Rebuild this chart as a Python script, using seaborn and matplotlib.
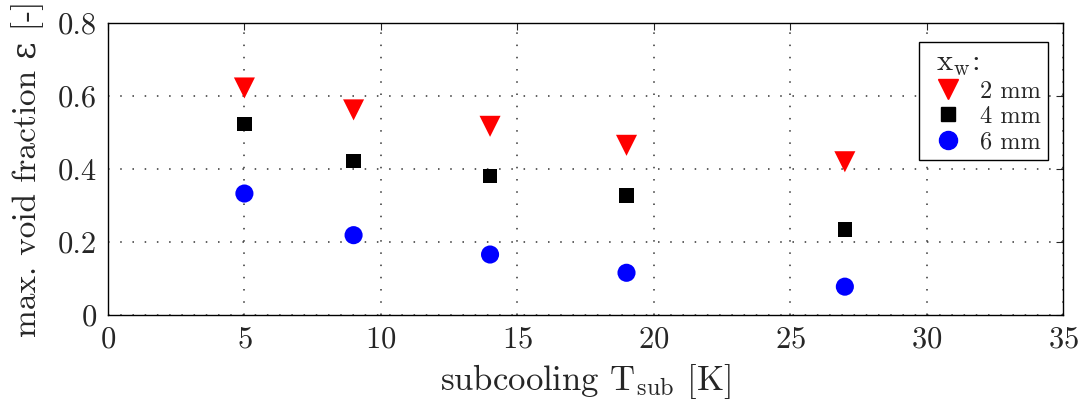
import pandas as pd
import matplotlib
matplotlib.use('Agg')
import matplotlib.pyplot as plt
import seaborn as sns

# data
subcooling = [5, 9, 14, 19, 27]
void_2mm = [0.622, 0.562, 0.517, 0.465, 0.42]
void_4mm = [0.523, 0.422, 0.381, 0.327, 0.234]
void_6mm = [0.333, 0.219, 0.166, 0.116, 0.078]
gap_labels = ['2 mm', '4 mm', '6 mm']

df = pd.DataFrame({
    'T_sub': subcooling * 3,
    'void': void_2mm + void_4mm + void_6mm,
    'gap': [g for g in gap_labels for _ in subcooling],
})

sns.set_style('white')
plt.rcParams['font.family'] = ['cmr10', 'DejaVu Serif']
plt.rcParams['mathtext.fontset'] = 'cm'
plt.rcParams['axes.formatter.use_mathtext'] = True
plt.rcParams['axes.unicode_minus'] = False

fig, ax = plt.subplots(figsize=(10.86, 4.03), dpi=100)
fig.subplots_adjust(left=0.0994, right=0.979, top=0.943, bottom=0.218)

palette = {'2 mm': '#ff0000', '4 mm': '#000000', '6 mm': '#0000ff'}
markers = {'2 mm': 'v', '4 mm': 's', '6 mm': 'o'}
sizes = {'2 mm': 230, '4 mm': 110, '6 mm': 170}

sns.scatterplot(data=df, x='T_sub', y='void', hue='gap', style='gap', size='gap',
                palette=palette, markers=markers, sizes=sizes, linewidth=0,
                ax=ax, legend=False)

ax.set_xlim(0, 35)
ax.set_ylim(0, 0.8)
ax.set_xticks(range(0, 36, 5))
ax.set_yticks([0, 0.2, 0.4, 0.6, 0.8])
ax.set_yticklabels(['0', '0.2', '0.4', '0.6', '0.8'])
ax.tick_params(direction='in', top=True, right=True, labelsize=22, length=5, width=0.8, pad=8)
ax.grid(True, linestyle=(0, (1, 7)), color='#333333', linewidth=1.1)
for s in ax.spines.values():
    s.set_color('black')
    s.set_linewidth(1.0)

ax.set_xlabel(r'subcooling T$_\mathrm{sub}$ [K]', fontsize=25, labelpad=6)
ax.set_ylabel('max. void fraction ε [-]', fontsize=24, labelpad=10)

handles = [plt.Line2D([], [], linestyle='', marker=markers[g], color=palette[g],
                      markersize={'2 mm': 15, '4 mm': 10.5, '6 mm': 13}[g]) for g in gap_labels]
leg = ax.legend(handles, gap_labels, title=r' x$_\mathrm{w}$:', loc='upper right',
                fontsize=17.5, title_fontsize=22, fancybox=False, framealpha=1,
                edgecolor='black', handlelength=1.8, handletextpad=0.4, borderpad=0.3,
                labelspacing=0.12, borderaxespad=0, bbox_to_anchor=(0.984, 0.935))
leg.get_frame().set_linewidth(1.0)
leg._legend_box.align = 'left'

plt.savefig('out.png', dpi=100)
